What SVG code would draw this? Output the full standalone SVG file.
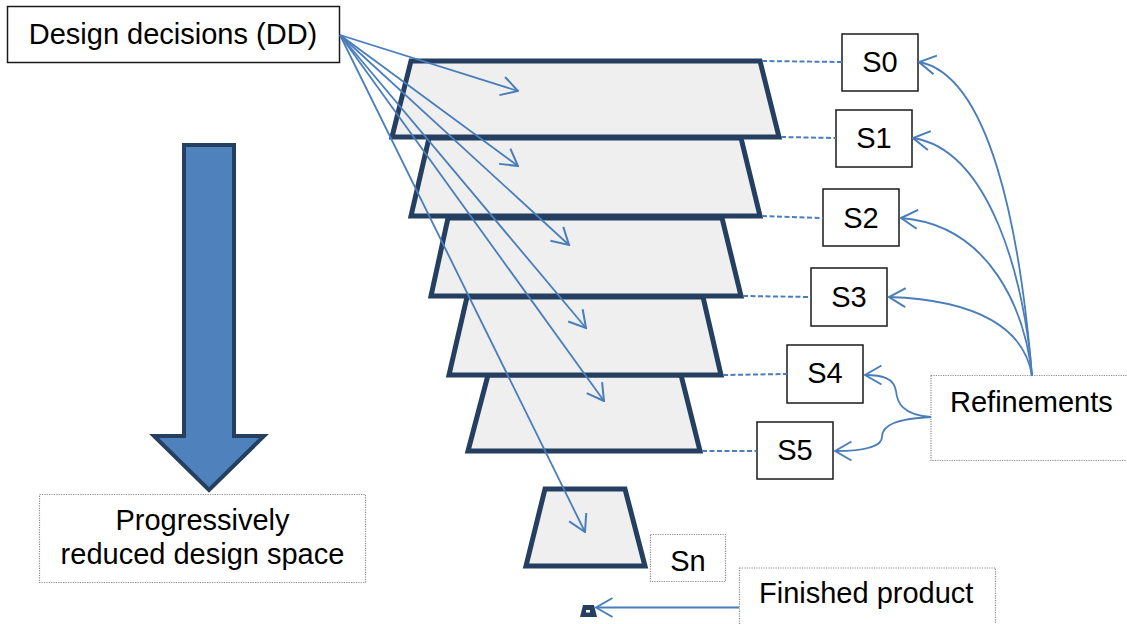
<svg xmlns="http://www.w3.org/2000/svg" width="1127" height="624" viewBox="0 0 1127 624">
  <style>
    .lbl { font-family: "Liberation Sans", Arial, sans-serif; font-size: 29px; fill: #000; }
    .mid { text-anchor: middle; }
    .box { fill: #fff; stroke: #1a1a1a; stroke-width: 1.5; }
    .note { fill: #fff; stroke: #8c8c8c; stroke-width: 1.2; stroke-dasharray: 1.2 1.2; }
    .layer { fill: #efefef; stroke: #243f60; stroke-width: 5; stroke-linejoin: miter; }
    .link { fill: none; stroke: #4a7ebb; stroke-width: 1.8; }
    .dash { fill: none; stroke: #4a7ebb; stroke-width: 2; stroke-dasharray: 5 2.5; }
  </style>
  <defs>
    <marker id="open" viewBox="-1 -11 19 22" refX="16.5" refY="0" markerWidth="19" markerHeight="22" orient="auto" markerUnits="userSpaceOnUse">
      <path d="M0,-9.5 L16.5,0 L0,9.5" fill="none" stroke="#4a7ebb" stroke-width="2"/>
    </marker>
  </defs>

  <!-- big downward arrow -->
  <g id="progress-arrow">
    <path d="M184,145 L234,145 L234,436 L264,436 L209,490 L154,436 L184,436 Z" fill="#4f81bd" stroke="#243f60" stroke-width="4" stroke-linejoin="miter"/>
  </g>
  <g id="progress-label">
    <rect class="note" x="39.5" y="494.5" width="326" height="88"/>
    <text class="lbl mid" x="202.5" y="530">Progressively</text>
    <text class="lbl mid" x="202.5" y="564">reduced design space</text>
  </g>

  <!-- design-space layers, widest on top -->
  <g id="layer-n"><polygon class="layer" points="545,489 625,489 645,566 526,566"/></g>
  <g id="layer-5"><polygon class="layer" points="488,375 681,375 700,451 468,451"/></g>
  <g id="layer-4"><polygon class="layer" points="467,297 703,297 721,375 449,375"/></g>
  <g id="layer-3"><polygon class="layer" points="448,218 722,218 741,296 431,296"/></g>
  <g id="layer-2"><polygon class="layer" points="429,138 741,138 760,216 411,216"/></g>
  <g id="layer-1"><polygon class="layer" points="411,61 760,61 779,137 392,137"/></g>

  <!-- finished product -->
  <g id="product">
    <polygon points="583,605 594,605 597,617 580,617" fill="#243f60"/>
    <rect x="586" y="610" width="4" height="2.5" fill="#fff"/>
  </g>

  <g id="dd">
    <rect class="box" x="7.5" y="6.5" width="332" height="56"/>
    <text class="lbl mid" x="173" y="44">Design decisions (DD)</text>
  </g>

  <g id="s0"><rect class="box" x="842" y="34" width="76" height="57"/><text class="lbl mid" x="880" y="72">S0</text></g>
  <g id="s1"><rect class="box" x="836" y="110" width="76" height="57"/><text class="lbl mid" x="874" y="148">S1</text></g>
  <g id="s2"><rect class="box" x="823" y="189" width="76" height="57"/><text class="lbl mid" x="861" y="228">S2</text></g>
  <g id="s3"><rect class="box" x="811" y="268" width="76" height="58"/><text class="lbl mid" x="849" y="307">S3</text></g>
  <g id="s4"><rect class="box" x="787" y="345" width="76" height="58"/><text class="lbl mid" x="825" y="383">S4</text></g>
  <g id="s5"><rect class="box" x="757" y="422" width="76" height="57"/><text class="lbl mid" x="795" y="460">S5</text></g>
  <g id="sn"><rect class="note" x="650.5" y="534.5" width="75" height="47"/><text class="lbl mid" x="688" y="571">Sn</text></g>

  <g id="refinements">
    <rect class="note" x="931" y="375.5" width="200" height="85"/>
    <text class="lbl" x="950" y="412">Refinements</text>
  </g>

  <g id="finished">
    <rect class="note" x="739.5" y="568" width="256" height="60"/>
    <text class="lbl" x="759" y="603">Finished product</text>
  </g>

  <g id="connectors">
    <!-- decisions into each layer -->
    <line class="link" x1="340" y1="35" x2="518" y2="91" marker-end="url(#open)"/>
    <line class="link" x1="340" y1="35" x2="518" y2="166" marker-end="url(#open)"/>
    <line class="link" x1="340" y1="35" x2="569" y2="245" marker-end="url(#open)"/>
    <line class="link" x1="340" y1="35" x2="586" y2="328" marker-end="url(#open)"/>
    <line class="link" x1="340" y1="35" x2="604" y2="401" marker-end="url(#open)"/>
    <line class="link" x1="340" y1="35" x2="585" y2="532" marker-end="url(#open)"/>

    <!-- layer-to-state ties -->
    <line class="dash" x1="762" y1="61" x2="842" y2="62"/>
    <line class="dash" x1="781" y1="137" x2="836" y2="138"/>
    <line class="dash" x1="762" y1="216" x2="823" y2="218"/>
    <line class="dash" x1="743" y1="296" x2="811" y2="297"/>
    <line class="dash" x1="723" y1="375" x2="787" y2="374"/>
    <line class="dash" x1="702" y1="451" x2="757" y2="451"/>

    <!-- refinements -->
    <path class="link" d="M1032,376 C1020,230 990,75 919,62" marker-end="url(#open)"/>
    <path class="link" d="M1032,376 C1025,280 990,150 913,138" marker-end="url(#open)"/>
    <path class="link" d="M1032,376 C1025,310 990,225 901,218" marker-end="url(#open)"/>
    <path class="link" d="M1032,376 C1025,330 980,300 889,297" marker-end="url(#open)"/>
    <path class="link" d="M931,417 C902,415 897,402 896,391 C894,378 882,375 865,375" marker-end="url(#open)"/>
    <path class="link" d="M931,417 C896,419 882,425 882,437 C882,447 862,451 835,451" marker-end="url(#open)"/>

    <line class="link" x1="739" y1="607.5" x2="596" y2="607.5" marker-end="url(#open)"/>
  </g>
</svg>
